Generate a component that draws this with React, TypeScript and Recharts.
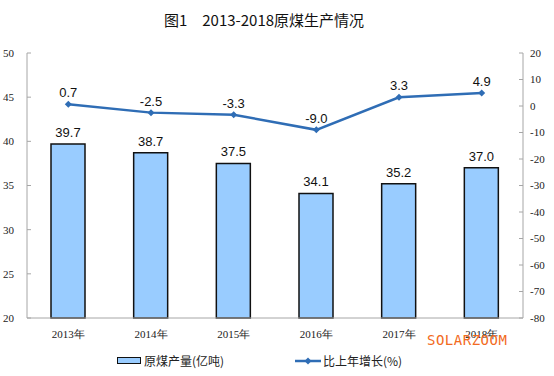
import { ComposedChart, Bar, Line, XAxis, YAxis, LabelList, Legend } from "recharts";

const years = ["2013年", "2014年", "2015年", "2016年", "2017年", "2018年"];
const output = [39.7, 38.7, 37.5, 34.1, 35.2, 37.0];
const growth = [0.7, -2.5, -3.3, -9.0, 3.3, 4.9];
const leftTicks = [20, 25, 30, 35, 40, 45, 50];
const rightTicks = [-80, -70, -60, -50, -40, -30, -20, -10, 0, 10, 20];

const data = years.map((year, i) => ({ year, output: output[i], growth: growth[i] }));

const BAR_FILL = "#99ccff";
const LINE_COLOR = "#2f6db5";
const AXIS_COLOR = "#a6a6a6";

const tickFont = { fontFamily: "'Liberation Serif', serif", fontSize: 11, fill: "#222" };
const labelFont = { fontFamily: "'Liberation Sans', Arial, sans-serif", fontSize: 13, fill: "#111" };

function Diamond(props: any) {
  const { cx, cy } = props;
  if (cx == null || cy == null) return null;
  return <path d={`M${cx},${cy - 3.5}L${cx + 3.5},${cy}L${cx},${cy + 3.5}L${cx - 3.5},${cy}Z`} fill={LINE_COLOR} />;
}

function LegendContent() {
  const font = { fontFamily: "'Noto Sans CJK SC', sans-serif", fontSize: 12, color: "#222" };
  return (
    <div style={{ display: "flex", alignItems: "center", ...font }}>
      <div style={{ position: "absolute", left: 117, top: 0, display: "flex", alignItems: "center" }}>
        <span style={{ width: 22, height: 5, border: "1.5px solid #111", background: BAR_FILL, marginRight: 3 }} />
        <span>原煤产量(亿吨)</span>
      </div>
      <div style={{ position: "absolute", left: 295, top: 0, display: "flex", alignItems: "center" }}>
        <svg width={26} height={10} style={{ marginRight: 2 }}>
          <line x1={0} y1={5} x2={26} y2={5} stroke={LINE_COLOR} strokeWidth={2.5} />
          <path d="M13,1.5L16.5,5L13,8.5L9.5,5Z" fill={LINE_COLOR} />
        </svg>
        <span>比上年增长(%)</span>
      </div>
    </div>
  );
}

export default function App() {
  return (
    <div style={{ position: "absolute", left: 0, top: 0, width: 554, height: 376, background: "#fff" }}>
      <div
        style={{
          position: "absolute", top: 9, left: 0, width: 528, textAlign: "center",
          fontFamily: "'Noto Sans CJK SC', sans-serif", fontSize: 15, color: "#111",
        }}
      >
        图1　2013-2018原煤生产情况
      </div>
      <ComposedChart width={554} height={376} data={data} margin={{ top: 53, right: 0, bottom: 34, left: 0 }}>
        <XAxis
          dataKey="year"
          tick={tickFont}
          tickLine={false}
          axisLine={{ stroke: AXIS_COLOR }}
          height={24}
          tickMargin={6}
        />
        <YAxis
          yAxisId="left"
          width={27}
          domain={[20, 50]}
          ticks={leftTicks}
          tick={{ ...tickFont, textAnchor: "end" }}
          tickSize={-4}
          tickMargin={17}
          tickLine={{ stroke: AXIS_COLOR }}
          axisLine={{ stroke: AXIS_COLOR }}
          interval={0}
        />
        <YAxis
          yAxisId="right"
          orientation="right"
          width={31}
          domain={[-80, 20]}
          ticks={rightTicks}
          tick={tickFont}
          tickSize={-4}
          tickMargin={11}
          tickLine={{ stroke: AXIS_COLOR }}
          axisLine={{ stroke: AXIS_COLOR }}
          interval={0}
        />
        <Legend layout="horizontal" verticalAlign="middle" content={<LegendContent />} wrapperStyle={{ top: 352, left: 0, width: 554, height: 16 }} />
        <Bar yAxisId="left" dataKey="output" name="原煤产量(亿吨)" fill={BAR_FILL} stroke="#111" strokeWidth={1.5} barSize={34} isAnimationActive={false}>
          <LabelList dataKey="output" position="top" offset={7} style={labelFont} formatter={(v: any) => Number(v).toFixed(1)} />
        </Bar>
        <Line
          yAxisId="right"
          dataKey="growth"
          name="比上年增长(%)"
          stroke={LINE_COLOR}
          strokeWidth={2.5}
          dot={<Diamond />}
          activeDot={false}
          isAnimationActive={false}
        >
          <LabelList dataKey="growth" position="top" offset={7} style={labelFont} formatter={(v: any) => Number(v).toFixed(1)} />
        </Line>
      </ComposedChart>
      <div
        style={{
          position: "absolute", left: 427, top: 332, fontFamily: "'DejaVu Sans Mono', monospace",
          fontSize: 14, color: "#f26a21", letterSpacing: 0.5,
        }}
      >
        SOLARZOOM
      </div>
    </div>
  );
}
